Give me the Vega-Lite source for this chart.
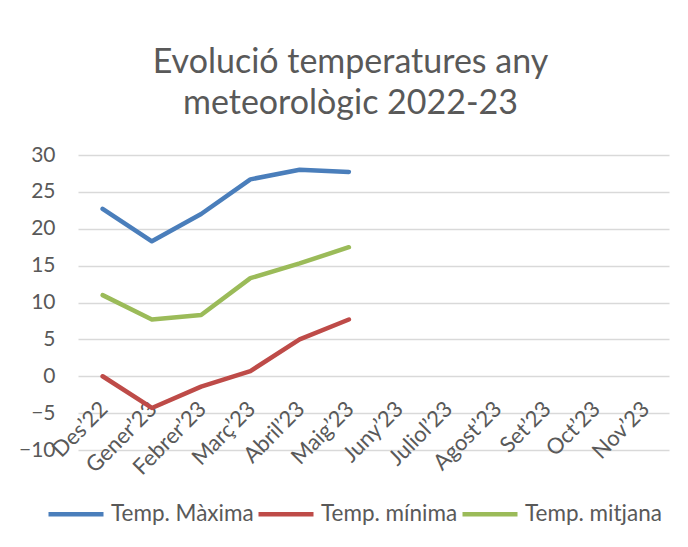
{
  "$schema": "https://vega.github.io/schema/vega-lite/v6.json",
  "width": 591,
  "height": 295,
  "autosize": {"type": "none"},
  "padding": {"left": 78, "top": 155, "right": 19, "bottom": 97},
  "background": "white",
  "config": {"view": {"stroke": null}, "font": "Lato"},
  "title": {
    "text": ["Evolució temperatures any", "meteorològic 2022-23"],
    "font": "Lato",
    "fontSize": 34,
    "fontWeight": "normal",
    "color": "#595959",
    "anchor": "middle",
    "dx": -23,
    "offset": 23,
    "lineHeight": 41
  },
  "data": {
    "values": [
      {"mes": "Des’22", "serie": "Temp. Màxima", "temp": 22.7},
      {"mes": "Gener’23", "serie": "Temp. Màxima", "temp": 18.3},
      {"mes": "Febrer’23", "serie": "Temp. Màxima", "temp": 22.0},
      {"mes": "Març’23", "serie": "Temp. Màxima", "temp": 26.7},
      {"mes": "Abril’23", "serie": "Temp. Màxima", "temp": 28.0},
      {"mes": "Maig’23", "serie": "Temp. Màxima", "temp": 27.7},
      {"mes": "Des’22", "serie": "Temp. mínima", "temp": 0.0},
      {"mes": "Gener’23", "serie": "Temp. mínima", "temp": -4.3},
      {"mes": "Febrer’23", "serie": "Temp. mínima", "temp": -1.4},
      {"mes": "Març’23", "serie": "Temp. mínima", "temp": 0.7},
      {"mes": "Abril’23", "serie": "Temp. mínima", "temp": 5.0},
      {"mes": "Maig’23", "serie": "Temp. mínima", "temp": 7.7},
      {"mes": "Des’22", "serie": "Temp. mitjana", "temp": 11.0},
      {"mes": "Gener’23", "serie": "Temp. mitjana", "temp": 7.7},
      {"mes": "Febrer’23", "serie": "Temp. mitjana", "temp": 8.3},
      {"mes": "Març’23", "serie": "Temp. mitjana", "temp": 13.3},
      {"mes": "Abril’23", "serie": "Temp. mitjana", "temp": 15.3},
      {"mes": "Maig’23", "serie": "Temp. mitjana", "temp": 17.5}
    ]
  },
  "mark": {"type": "line", "strokeWidth": 4.5, "strokeCap": "round", "strokeJoin": "round"},
  "encoding": {
    "x": {
      "field": "mes",
      "type": "ordinal",
      "sort": null,
      "scale": {
        "type": "point",
        "padding": 0.5,
        "domain": ["Des’22", "Gener’23", "Febrer’23", "Març’23", "Abril’23", "Maig’23", "Juny’23", "Juliol’23", "Agost’23", "Set’23", "Oct’23", "Nov’23"]
      },
      "axis": {
        "title": null,
        "offset": -74,
        "domain": false,
        "ticks": false,
        "grid": false,
        "labelAngle": -45,
        "labelFont": "Lato",
        "labelFontSize": 22,
        "labelColor": "#595959",
        "labelPadding": 22,
        "labelOffset": -6
      }
    },
    "y": {
      "field": "temp",
      "type": "quantitative",
      "scale": {"domain": [-10, 30], "nice": false, "zero": false},
      "axis": {
        "title": null,
        "values": [-10, -5, 0, 5, 10, 15, 20, 25, 30],
        "domain": false,
        "ticks": false,
        "grid": true,
        "gridColor": "#d9d9d9",
        "gridWidth": 1.5,
        "labelFont": "Lato",
        "labelFontSize": 21,
        "labelColor": "#595959",
        "labelPadding": 23
      }
    },
    "color": {
      "field": "serie",
      "type": "nominal",
      "scale": {
        "domain": ["Temp. Màxima", "Temp. mínima", "Temp. mitjana"],
        "range": ["#4a7ebb", "#be4b48", "#9bbb59"]
      },
      "legend": {
        "title": null,
        "orient": "none",
        "legendX": -32,
        "legendY": 329,
        "direction": "horizontal",
        "symbolType": "stroke",
        "symbolSize": 3025,
        "symbolStrokeWidth": 4.5,
        "labelFont": "Lato",
        "labelFontSize": 22.5,
        "labelColor": "#595959",
        "labelOffset": 5,
        "columnPadding": -5
      }
    }
  }
}
